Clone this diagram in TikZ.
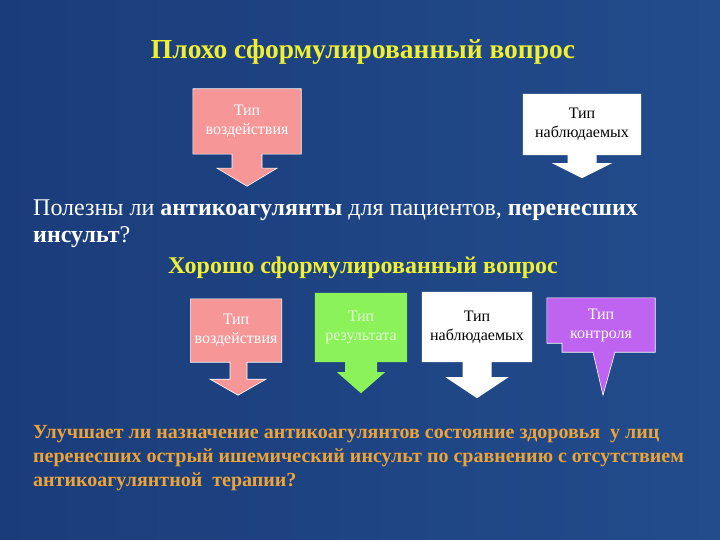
\documentclass[tikz,border=0pt]{standalone}
\usepackage{fontspec}
\setmainfont{Liberation Serif}
\usetikzlibrary{calc,backgrounds}
\definecolor{fonl}{RGB}{27,60,122}
\definecolor{fonr}{RGB}{34,76,140}
\definecolor{zhelt}{RGB}{240,240,50}
\definecolor{oranzh}{RGB}{236,164,56}
\definecolor{rozov}{RGB}{246,150,150}
\definecolor{zelen}{RGB}{140,242,90}
\definecolor{zelentext}{RGB}{226,255,212}
\definecolor{fiolet}{RGB}{190,100,240}

\begin{document}
\begin{tikzpicture}[x=1pt,y=-1pt]
\tikzstyle{zagolovok}=[text=zhelt,inner sep=0pt]
\tikzstyle{tip}=[rectangle,inner sep=0pt,align=center,font=\fontsize{16}{19}\selectfont]
\tikzstyle{strelka}=[draw=white,line width=0.6pt,line join=miter]

% tексты
\node[zagolovok,font=\fontsize{27.5}{30}\selectfont\bfseries] (plokho) at (363,52) {Плохо сформулированный вопрос};
\node[anchor=north west,align=left,inner sep=0pt,text=white,
      font=\fontsize{24}{27}\selectfont] (vopros1) at (33,200)
  {Полезны ли \textbf{антикоагулянты} для пациентов, \textbf{перенесших}\\
   \textbf{инсульт}?};
\node[zagolovok,font=\fontsize{24}{28}\selectfont\bfseries] (khorosho) at (363,268) {Хорошо сформулированный вопрос};
\node[anchor=north west,align=left,inner sep=0pt,text=oranzh,
      font=\fontsize{20}{24}\selectfont\bfseries] (vopros2) at (33,424.8)
  {Улучшает ли назначение антикоагулянтов состояние здоровья \ у лиц\\
   перенесших острый ишемический инсульт по сравнению с отсутствием\\
   антикоагулянтной \ терапии?};

% блоки
\node[tip,minimum width=108,minimum height=65,text=white] (tip1) at (247,121.5) {Тип\\воздействия};
\node[tip,minimum width=118,minimum height=61,text=black] (nabl1) at (582,124.5) {Тип\\наблюдаемых};
\node[tip,minimum width=91,minimum height=63,text=white] (tip2) at (236,330.5) {Тип\\воздействия};
\node[tip,minimum width=92,minimum height=69,text=zelentext] (rezult) at (361,327.5) {Тип\\результата};
\node[tip,minimum width=110,minimum height=70,text=black] (nabl2) at (477,327) {Тип\\наблюдаемых};
\node[tip,minimum width=108,minimum height=54,text=white] (kontrol) at (601,325) {Тип\\контроля};

\begin{scope}[on background layer]
\fill[left color=fonl,right color=fonr] (0,0) rectangle (720,540);
% стрелки
\path[strelka,fill=rozov] (tip1.north west) -- (tip1.north east) -- (tip1.south east)
  -- ($(tip1.south)+(15,0)$) -- ($(tip1.south)+(15,14)$) -- ($(tip1.south)+(30,14)$)
  -- ($(tip1.south)+(0,32)$) -- ($(tip1.south)+(-30,14)$) -- ($(tip1.south)+(-15,14)$)
  -- ($(tip1.south)+(-15,0)$) -- (tip1.south west) -- cycle;
\path[fill=white] (nabl1.north west) -- (nabl1.north east) -- (nabl1.south east)
  -- ($(nabl1.south)+(14.5,0)$) -- ($(nabl1.south)+(14.5,8)$) -- ($(nabl1.south)+(30,8)$)
  -- ($(nabl1.south)+(0,23)$) -- ($(nabl1.south)+(-30,8)$) -- ($(nabl1.south)+(-14.5,8)$)
  -- ($(nabl1.south)+(-14.5,0)$) -- (nabl1.south west) -- cycle;
\path[strelka,fill=rozov] (tip2.north west) -- (tip2.north east) -- (tip2.south east)
  -- ($(tip2.south)+(11,0)$) -- ($(tip2.south)+(11,17)$) -- ($(tip2.south)+(30,17)$)
  -- ($(tip2.south)+(2,33)$) -- ($(tip2.south)+(-26,17)$) -- ($(tip2.south)+(-6,17)$)
  -- ($(tip2.south)+(-6,0)$) -- (tip2.south west) -- cycle;
\path[fill=zelen] (rezult.north west) -- (rezult.north east) -- (rezult.south east)
  -- ($(rezult.south)+(16,0)$) -- ($(rezult.south)+(16,10)$) -- ($(rezult.south)+(24,10)$)
  -- ($(rezult.south)+(0,31)$) -- ($(rezult.south)+(-24,10)$) -- ($(rezult.south)+(-16,10)$)
  -- ($(rezult.south)+(-16,0)$) -- (rezult.south west) -- cycle;
\path[fill=white] (nabl2.north west) -- (nabl2.north east) -- (nabl2.south east)
  -- ($(nabl2.south)+(14.5,0)$) -- ($(nabl2.south)+(14.5,15)$) -- ($(nabl2.south)+(31.5,15)$)
  -- ($(nabl2.south)+(0,36)$) -- ($(nabl2.south)+(-31.5,15)$) -- ($(nabl2.south)+(-14.5,15)$)
  -- ($(nabl2.south)+(-14.5,0)$) -- (nabl2.south west) -- cycle;
\path[strelka,fill=fiolet] (kontrol.north west) -- (kontrol.north east) -- (kontrol.south east)
  -- ($(kontrol.south)+(14,0)$) -- ($(kontrol.south)+(2,43)$) -- ($(kontrol.south)+(-8,0)$)
  -- ($(kontrol.south)+(-39,0)$) -- ($(kontrol.south)+(-39,-9)$)
  -- ($(kontrol.south west)+(0,-9)$) -- cycle;
\end{scope}
\end{tikzpicture}
\end{document}
